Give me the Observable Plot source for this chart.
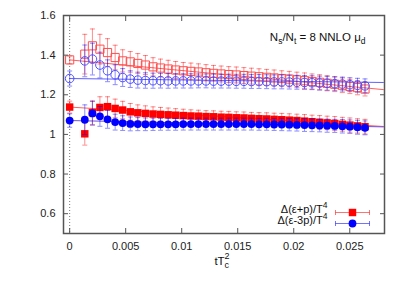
<!DOCTYPE html>
<html><head><meta charset="utf-8">
<script src="https://cdn.jsdelivr.net/npm/d3@7"></script>
<script src="https://cdn.jsdelivr.net/npm/@observablehq/plot@0.6"></script>
<style>body{margin:0;background:#fff}</style>
</head><body><div id="chart"></div>
<script>
// flow time tT_c^2 (first entry = extrapolated t -> 0)
const tT2 = [0, 0.00135, 0.00203, 0.00270, 0.00338, 0.00406, 0.00473, 0.00541, 0.00608, 0.00676, 0.00744,
  0.00811, 0.00879, 0.00946, 0.01014, 0.01082, 0.01149, 0.01217, 0.01284, 0.01352, 0.01420,
  0.01487, 0.01555, 0.01622, 0.01690, 0.01758, 0.01825, 0.01893, 0.01960, 0.02028, 0.02096,
  0.02163, 0.02231, 0.02298, 0.02366, 0.02434, 0.02501, 0.02569, 0.02636];

// Δ(ε+p)/T^4 filled
const epVal = [1.138, 1.003, 1.110, 1.136, 1.140, 1.131, 1.123, 1.114, 1.109, 1.106, 1.103,
  1.101, 1.099, 1.097, 1.095, 1.093, 1.092, 1.090, 1.089, 1.087, 1.086,
  1.084, 1.083, 1.081, 1.079, 1.078, 1.076, 1.074, 1.072, 1.070, 1.067,
  1.064, 1.061, 1.058, 1.055, 1.051, 1.047, 1.043, 1.039];
const epErr = [0.030, 0.057, 0.060, 0.054, 0.050, 0.047, 0.044, 0.042, 0.040, 0.038, 0.036,
  0.035, 0.034, 0.033, 0.032, 0.031, 0.030, 0.030, 0.030, 0.030, 0.030,
  0.030, 0.030, 0.030, 0.031, 0.031, 0.031, 0.032, 0.032, 0.032, 0.033,
  0.033, 0.034, 0.034, 0.035, 0.035, 0.036, 0.036, 0.037];
// Δ(ε-3p)/T^4 filled
const e3pVal = [1.070, 1.074, 1.106, 1.091, 1.076, 1.062, 1.057, 1.053, 1.052, 1.051, 1.051,
  1.051, 1.051, 1.051, 1.052, 1.052, 1.052, 1.052, 1.052, 1.052, 1.052,
  1.052, 1.052, 1.052, 1.051, 1.051, 1.050, 1.050, 1.049, 1.048, 1.047,
  1.046, 1.045, 1.044, 1.043, 1.041, 1.039, 1.036, 1.033];
const e3pErr = [0.034, 0.075, 0.060, 0.050, 0.045, 0.040, 0.037, 0.035, 0.033, 0.032, 0.031,
  0.030, 0.030, 0.030, 0.030, 0.030, 0.030, 0.030, 0.030, 0.030, 0.030,
  0.030, 0.030, 0.030, 0.030, 0.030, 0.030, 0.031, 0.031, 0.031, 0.032,
  0.032, 0.032, 0.033, 0.033, 0.034, 0.034, 0.035, 0.035];
// open squares (ε+p, second set)
const epOpenVal = [1.376, 1.405, 1.447, 1.430, 1.413, 1.388, 1.371, 1.366, 1.358, 1.350, 1.341,
  1.335, 1.330, 1.325, 1.321, 1.318, 1.315, 1.311, 1.308, 1.305, 1.302,
  1.300, 1.297, 1.294, 1.291, 1.288, 1.285, 1.282, 1.279, 1.275, 1.271,
  1.267, 1.263, 1.258, 1.253, 1.248, 1.242, 1.236, 1.229];
const epOpenErr = [0.020, 0.100, 0.085, 0.075, 0.070, 0.062, 0.056, 0.052, 0.050, 0.048, 0.046,
  0.045, 0.044, 0.043, 0.042, 0.042, 0.041, 0.041, 0.040, 0.040, 0.040,
  0.040, 0.040, 0.040, 0.040, 0.040, 0.040, 0.039, 0.039, 0.039, 0.039,
  0.038, 0.038, 0.038, 0.037, 0.037, 0.036, 0.036, 0.035];
// open circles (ε-3p, second set)
const e3pOpenVal = [1.282, 1.371, 1.380, 1.350, 1.321, 1.301, 1.287, 1.279, 1.274, 1.272, 1.271,
  1.271, 1.270, 1.270, 1.270, 1.270, 1.270, 1.270, 1.269, 1.269, 1.269,
  1.268, 1.268, 1.267, 1.267, 1.266, 1.265, 1.265, 1.264, 1.263, 1.262,
  1.261, 1.259, 1.258, 1.256, 1.254, 1.251, 1.248, 1.245];
const e3pOpenErr = [0.038, 0.080, 0.080, 0.065, 0.055, 0.050, 0.045, 0.042, 0.040, 0.039, 0.038,
  0.037, 0.037, 0.036, 0.036, 0.036, 0.035, 0.035, 0.035, 0.035, 0.035,
  0.035, 0.035, 0.035, 0.035, 0.035, 0.035, 0.035, 0.035, 0.035, 0.035,
  0.035, 0.035, 0.035, 0.035, 0.035, 0.035, 0.035, 0.035];

// linear fits (end points)
const fitX = [0, 0.028];
const fitEpOpen = [1.376, 1.226];
const fitE3pOpen = [1.282, 1.262];
const fitEp = [1.138, 1.040];
const fitE3p = [1.070, 1.038];

const xTicks = [0, 0.005, 0.01, 0.015, 0.02, 0.025];
const yTicks = [0.6, 0.8, 1, 1.2, 1.4, 1.6];
const legendLabels = ["Δ(ε+p)/T4", "Δ(ε-3p)/T4"];
const annotation = "Ns/Nt = 8 NNLO μd";
const xLabel = "tTc2";

const rows = (v, e) => tT2.map((x, i) => ({x, y: v[i], lo: v[i] - e[i], hi: v[i] + e[i]}));
const fitRows = (v) => fitX.map((x, i) => ({x, y: v[i]}));

const cap = {draw(ctx, size) { const r = Math.sqrt(size / Math.PI); ctx.moveTo(-r, 0); ctx.lineTo(r, 0); }};
const legendBar = {draw(ctx, size) { const r = Math.sqrt(size / Math.PI);
  ctx.moveTo(-r, 0); ctx.lineTo(r, 0); ctx.moveTo(-r, -2.5); ctx.lineTo(-r, 2.5); ctx.moveTo(r, -2.5); ctx.lineTo(r, 2.5); }};

function errorMarks(data, color, op) {
  return [
    Plot.ruleX(data, {x: "x", y1: "lo", y2: "hi", stroke: color, strokeOpacity: op, strokeWidth: 1}),
    Plot.dot(data, {x: "x", y: "lo", symbol: cap, r: 2.5, stroke: color, strokeOpacity: op, strokeWidth: 1}),
    Plot.dot(data, {x: "x", y: "hi", symbol: cap, r: 2.5, stroke: color, strokeOpacity: op, strokeWidth: 1})
  ];
}

const sEp = rows(epVal, epErr), sE3p = rows(e3pVal, e3pErr);
const sEpO = rows(epOpenVal, epOpenErr), sE3pO = rows(e3pOpenVal, e3pOpenErr);

const RED = "#ff0000", BLUE = "#0000ff";

const chart = Plot.plot({
  width: 409, height: 286,
  marginLeft: 63, marginRight: 25, marginTop: 15, marginBottom: 53,
  style: {fontFamily: "'Liberation Sans', Arial, sans-serif", fontSize: "11px", color: "#222", background: "#fff"},
  x: {domain: [-0.00055, 0.0281]},
  y: {domain: [0.5, 1.6]},
  marks: [
    Plot.ruleX([0], {stroke: "#777", strokeDasharray: "1,2", strokeWidth: 1}),
    // fit lines
    Plot.line(fitRows(fitEpOpen), {x: "x", y: "y", stroke: "#ff6060", strokeWidth: 1}),
    Plot.line(fitRows(fitE3pOpen), {x: "x", y: "y", stroke: "#6060ff", strokeWidth: 1}),
    Plot.line(fitRows(fitEp), {x: "x", y: "y", stroke: "#ff6060", strokeWidth: 1}),
    Plot.line(fitRows(fitE3p), {x: "x", y: "y", stroke: "#7050e0", strokeWidth: 1}),
    // open sets
    ...errorMarks(sEpO, RED, 0.45),
    Plot.dot(sEpO, {x: "x", y: "y", symbol: "square", r: 4.6, stroke: "#ff5050", strokeWidth: 1, fill: "none"}),
    ...errorMarks(sE3pO, BLUE, 0.45),
    Plot.dot(sE3pO, {x: "x", y: "y", symbol: "circle", r: 4.3, stroke: "#5050ff", strokeWidth: 1, fill: "none"}),
    // filled sets
    ...errorMarks(sEp, RED, 0.45),
    Plot.dot(sEp, {x: "x", y: "y", symbol: "square", r: 4.2, fill: RED}),
    ...errorMarks(sE3p, BLUE, 0.45),
    Plot.dot(sE3p, {x: "x", y: "y", symbol: "circle", r: 3.9, fill: BLUE}),
    // axes
    Plot.axisX({ticks: xTicks, tickSize: -5, tickPadding: 14, tickFormat: d => String(d), label: null, stroke: "#555"}),
    Plot.axisX({anchor: "top", ticks: xTicks, tickSize: -5, tickFormat: () => "", label: null, stroke: "#555"}),
    Plot.axisY({ticks: yTicks, tickSize: -5, tickPadding: 13, tickFormat: d => String(d), label: null, stroke: "#555"}),
    Plot.axisY({anchor: "right", ticks: yTicks, tickSize: -5, tickFormat: () => "", label: null, stroke: "#555"}),
    Plot.frame({stroke: "#555", strokeWidth: 1.5}),
    // annotation & labels
    Plot.text([annotation], {text: d => d, frameAnchor: "top-right", dx: -19, dy: 17, textAnchor: "end", fontSize: 11.5, fill: "#111"}),
    Plot.text([xLabel], {text: d => d, frameAnchor: "bottom", dx: -2, dy: 31, fontSize: 11.5, fill: "#111"}),
    // legend
    Plot.text([legendLabels[0]], {text: d => d, frameAnchor: "bottom-right", dx: -57, dy: -21, textAnchor: "end", fontSize: 11, fill: "#111"}),
    Plot.text([legendLabels[1]], {text: d => d, frameAnchor: "bottom-right", dx: -57, dy: -10, textAnchor: "end", fontSize: 11, fill: "#111"}),
    Plot.dot([0], {frameAnchor: "bottom-right", dx: -32, dy: -21, symbol: legendBar, r: 17, stroke: RED, strokeOpacity: 0.55, strokeWidth: 1}),
    Plot.dot([0], {frameAnchor: "bottom-right", dx: -32, dy: -10, symbol: legendBar, r: 17, stroke: BLUE, strokeOpacity: 0.55, strokeWidth: 1}),
    Plot.dot([0], {frameAnchor: "bottom-right", dx: -32, dy: -21, symbol: "square", r: 4.2, fill: RED}),
    Plot.dot([0], {frameAnchor: "bottom-right", dx: -32, dy: -10, symbol: "circle", r: 3.9, fill: BLUE})
  ]
});
document.getElementById("chart").appendChild(chart);

// rich text (sub/superscripts) as tspans
function rich(content, parts) {
  d3.select(chart).selectAll("text").filter(function() { return this.textContent === content; }).each(function() {
    const t = d3.select(this);
    t.text(null);
    for (const p of parts) {
      const s = t.append("tspan").text(p.t);
      if (p.dy) s.attr("dy", p.dy);
      if (p.dx) s.attr("dx", p.dx);
      if (p.fs) s.attr("font-size", p.fs);
    }
  });
}
rich(annotation, [{t: "N"}, {t: "s", dy: 3, fs: 8.5}, {t: "/N", dy: -3}, {t: "t", dy: 3, fs: 8.5}, {t: " = 8 NNLO μ", dy: -3}, {t: "d", dy: 3, fs: 8.5}]);
rich(xLabel, [{t: "tT"}, {t: "c", dy: 3.5, fs: 9}, {t: "2", dy: -9, dx: -4.5, fs: 9}]);
rich(legendLabels[0], [{t: "Δ(ε+p)/T"}, {t: "4", dy: -5, fs: 8.5}]);
rich(legendLabels[1], [{t: "Δ(ε-3p)/T"}, {t: "4", dy: -5, fs: 8.5}]);
</script>
</body></html>
